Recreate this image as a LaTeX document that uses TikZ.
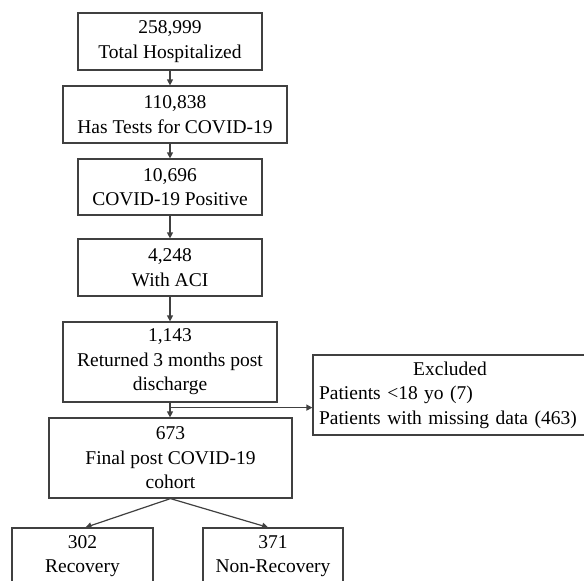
\documentclass[tikz,border=0pt]{standalone}
\usepackage{fontspec}
\setmainfont{Liberation Serif}
\usetikzlibrary{arrows.meta}
\begin{document}
\begin{tikzpicture}[x=1pt,y=-1pt]
\tikzstyle{every node}+=[inner sep=0pt, font=\fontsize{19.5}{24.5}\selectfont]
\tikzstyle{box}=[draw=black!75, line width=1.2pt, align=center]
\tikzstyle{arr}=[draw=black!75, line width=1.2pt, -{Triangle[length=6pt,width=6pt]}]
\clip (0,0) rectangle (584,581);
\node [box, minimum width=184, minimum height=57] (total) at (170,41.5) {258,999\\Total Hospitalized};
\node [box, minimum width=224, minimum height=57] (tests) at (175,114.5) {110,838\\Has Tests for COVID-19};
\node [box, minimum width=184, minimum height=56] (positive) at (170,187) {10,696\\COVID-19 Positive};
\node [box, minimum width=184, minimum height=57] (aci) at (170,267.5) {4,248\\With ACI};
\node [box, minimum width=214, minimum height=80] (returned) at (170,362) {1,143\\Returned 3 months post\\discharge};
\node [box, minimum width=243, minimum height=80] (final) at (170.5,458) {673\\Final post COVID-19\\cohort};
\node [box, minimum width=270, minimum height=80, inner xsep=6, text width=262, align=left] (excluded) at (450,395) {\makebox[262pt]{Excluded}\\Patients <18 yo (7)\\Patients with missing data (463)};
\node [box, minimum width=141, minimum height=56] (recovery) at (82.5,556) {302\\Recovery};
\node [box, minimum width=140, minimum height=56] (nonrecovery) at (273,556) {371\\Non-Recovery};
\draw [arr] (total.south) -- (total.south |- tests.north);
\draw [arr] (positive.north |- tests.south) -- (positive.north);
\draw [arr] (positive.south) -- (aci.north);
\draw [arr] (aci.south) -- (returned.north);
\draw [arr] (returned.south) -- (returned.south |- final.north);
\path (returned.south) ++(0,5) coordinate (split);
\draw [arr] (split) -- (split -| excluded.west);
\draw [arr] (final.south) -- ([xshift=3]recovery.north);
\draw [arr] (final.south) -- ([xshift=-5]nonrecovery.north);
\end{tikzpicture}
\end{document}
